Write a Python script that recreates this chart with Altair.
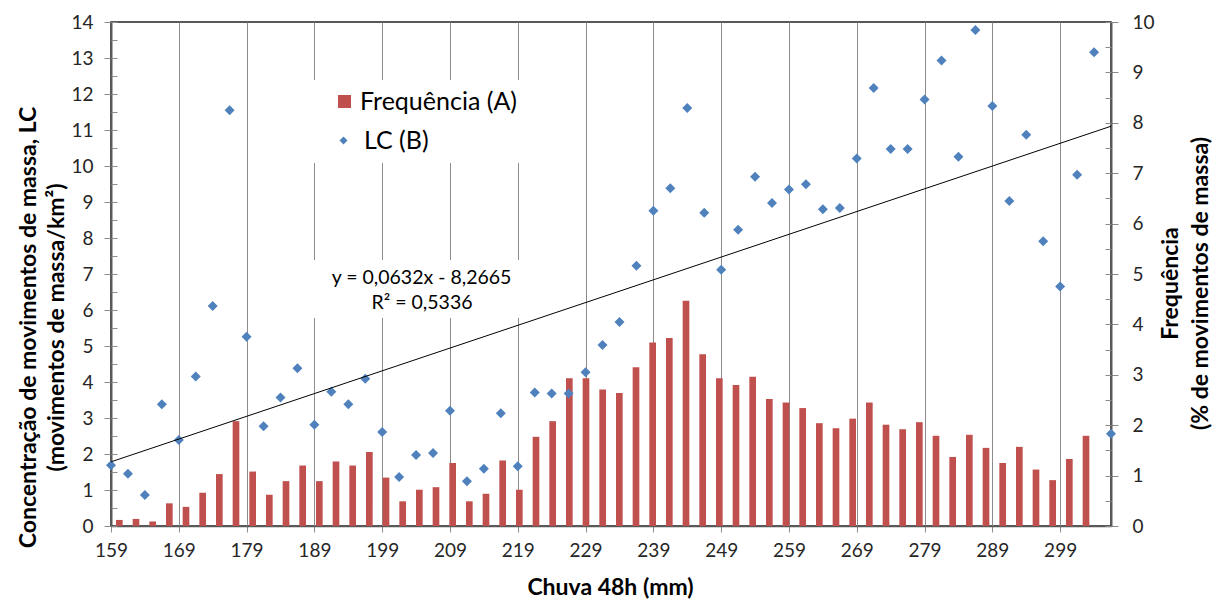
import altair as alt
import pandas as pd

# ---------------- data ----------------
rain = [159, 161.5, 164, 166.5, 169, 171.5, 174, 176.5, 179, 181.5,
        184, 186.5, 189, 191.5, 194, 196.5, 199, 201.5, 204, 206.5,
        209, 211.5, 214, 216.5, 219, 221.5, 224, 226.5, 229, 231.5,
        234, 236.5, 239, 241.5, 244, 246.5, 249, 251.5, 254, 256.5,
        259, 261.5, 264, 266.5, 269, 271.5, 274, 276.5, 279, 281.5,
        284, 286.5, 289, 291.5, 294, 296.5, 299, 301.5, 304, 306.5]

lc = [1.69, 1.45, 0.86, 3.38, 2.39, 4.15, 6.11, 11.55, 5.26, 2.77,
      3.57, 4.38, 2.81, 3.73, 3.38, 4.09, 2.61, 1.36, 1.97, 2.03,
      3.20, 1.24, 1.59, 3.13, 1.66, 3.71, 3.68, 3.68, 4.27, 5.03,
      5.67, 7.23, 8.76, 9.38, 11.61, 8.70, 7.12, 8.23, 9.70, 8.97,
      9.35, 9.49, 8.80, 8.83, 10.21, 12.17, 10.47, 10.47, 11.85, 12.93,
      10.26, 13.78, 11.67, 9.03, 10.87, 7.91, 6.65, 9.76, 13.16, 2.56]

freq = [0.12, 0.14, 0.09, 0.45, 0.38, 0.66, 1.03, 2.08, 1.08, 0.62,
        0.89, 1.20, 0.89, 1.28, 1.20, 1.47, 0.96, 0.49, 0.72, 0.77,
        1.25, 0.49, 0.64, 1.30, 0.72, 1.77, 2.08, 2.93, 2.93, 2.71,
        2.64, 3.15, 3.64, 3.73, 4.47, 3.41, 2.93, 2.80, 2.96, 2.52,
        2.45, 2.34, 2.04, 1.94, 2.13, 2.45, 2.01, 1.92, 2.06, 1.79,
        1.37, 1.81, 1.55, 1.25, 1.57, 1.12, 0.91, 1.33, 1.79, 0.0]

x_ticks = [159, 169, 179, 189, 199, 209, 219, 229, 239, 249, 259, 269, 279, 289, 299]
y_left_ticks = [0, 1, 2, 3, 4, 5, 6, 7, 8, 9, 10, 11, 12, 13, 14]
y_right_ticks = [0, 1, 2, 3, 4, 5, 6, 7, 8, 9, 10]
# inner (minor + major) tick positions
y_left_inner = [0, 0.5, 1, 1.5, 2, 2.5, 3, 3.5, 4, 4.5, 5, 5.5, 6, 6.5, 7, 7.5,
                8, 8.5, 9, 9.5, 10, 10.5, 11, 11.5, 12, 12.5, 13, 13.5, 14]
y_right_inner = [0, 0.5, 1, 1.5, 2, 2.5, 3, 3.5, 4, 4.5, 5, 5.5, 6, 6.5, 7, 7.5,
                 8, 8.5, 9, 9.5, 10]

trend_slope = 0.0632
trend_intercept = -8.2665
eq_lines = ["y = 0,0632x - 8,2665", "R\u00b2 = 0,5336"]
legend_labels = ["Frequência (A)", "LC (B)"]

left_title = ["Concentração de movimentos de massa, LC", "(movimentos de massa/km\u00b2)"]
right_title = ["Frequência", "(% de movimentos de massa)"]
x_title = "Chuva 48h (mm)"

# ---------------- styling ----------------
BAR = "#C0504D"
PT = "#4F81BD"
FONT = "Lato"
TICK = "#8c8c8c"
W, H = 1000, 504

pts_df = pd.DataFrame({"chuva": rain, "lc": lc, "serie_b": legend_labels[1]})
bar_df = pd.DataFrame({"classe": rain, "freq": freq, "serie_a": legend_labels[0]})
trend_df = pd.DataFrame({"chuva": [rain[0], rain[-1]]})
one = pd.DataFrame({"k": [0]})

x_scale = alt.Scale(domain=[159, 306.5], nice=False, zero=False)
yl_scale = alt.Scale(domain=[0, 14], nice=False)
yr_scale = alt.Scale(domain=[0, 10], nice=False)

x_axis = alt.Axis(values=x_ticks, grid=True, gridColor="#8c8c8c", gridWidth=1,
                  tickColor=TICK, tickSize=6, domainColor="#595959", domainWidth=1.5,
                  labelFont=FONT, labelFontSize=19, labelColor="#262626", labelPadding=9,
                  labelFlush=False, labelOverlap=False,
                  title=x_title, titleFont=FONT, titleFontSize=23, titleFontWeight="bold",
                  titleColor="#000000", titleX=499, titleY=61, titleAlign="center",
                  titleBaseline="middle")

yl_axis = alt.Axis(values=y_left_ticks, grid=False, orient="left",
                   tickColor=TICK, tickSize=7, domainColor="#595959", domainWidth=2,
                   labelFont=FONT, labelFontSize=19, labelColor="#262626", labelPadding=11,
                   labelOverlap=False,
                   title=left_title, titleFont=FONT, titleFontSize=23, titleFontWeight="bold",
                   titleColor="#000000", titleAngle=270, titleX=-83, titleY=305,
                   titleAlign="center", titleBaseline="middle", titleLineHeight=28)

yr_axis = alt.Axis(values=y_right_ticks, grid=False, orient="right",
                   tickColor=TICK, tickSize=7, domainColor="#595959", domainWidth=2,
                   labelFont=FONT, labelFontSize=19, labelColor="#262626", labelPadding=14,
                   labelOverlap=False,
                   title=right_title, titleFont=FONT, titleFontSize=23, titleFontWeight="bold",
                   titleColor="#000000", titleAngle=270, titleX=59, titleY=261,
                   titleAlign="center", titleBaseline="middle", titleLineHeight=30)

leg_a = alt.Legend(title=None, orient="none", legendX=221, legendY=67, symbolType="square",
                   symbolSize=169, symbolStrokeWidth=0, labelFont=FONT, labelFontSize=25,
                   labelColor="#000000", labelOffset=3, labelLimit=400, padding=0)
leg_b = alt.Legend(title=None, orient="none", legendX=220, legendY=106, symbolType="diamond",
                   symbolSize=64, symbolFillColor=PT, symbolStrokeWidth=0, labelFont=FONT,
                   labelFontSize=25, labelColor="#000000", labelOffset=8, labelLimit=400,
                   padding=0)

bars = alt.Chart(bar_df).mark_bar().encode(
    x=alt.X("classe:O", axis=None, scale=alt.Scale(paddingInner=0.6, paddingOuter=0.3)),
    y=alt.Y("freq:Q", scale=yr_scale, axis=yr_axis),
    color=alt.Color("serie_a:N", scale=alt.Scale(domain=[legend_labels[0]], range=[BAR]),
                    legend=leg_a),
)

legend_bg = alt.Chart(one).mark_rect(color="white").encode(
    x=alt.value(190), x2=alt.value(430), y=alt.value(58), y2=alt.value(141))
eq_bg = alt.Chart(one).mark_rect(color="white").encode(
    x=alt.value(199), x2=alt.value(421), y=alt.value(238), y2=alt.value(296))

points = alt.Chart(pts_df).mark_point(filled=True, size=100, opacity=1, color=PT).encode(
    x=alt.X("chuva:Q", scale=x_scale, axis=x_axis),
    y=alt.Y("lc:Q", scale=yl_scale, axis=yl_axis),
    shape=alt.Shape("serie_b:N", scale=alt.Scale(domain=[legend_labels[1]], range=["diamond"]),
                    legend=leg_b),
)

trend = alt.Chart(trend_df).transform_calculate(
    lc=f"{trend_slope} * datum.chuva + ({trend_intercept})"
).mark_line(color="black", strokeWidth=1).encode(
    x=alt.X("chuva:Q", scale=x_scale, axis=x_axis),
    y=alt.Y("lc:Q", scale=yl_scale, axis=yl_axis),
)

eq1 = alt.Chart(one).mark_text(font=FONT, fontSize=19.5, color="#000000", align="center",
                               baseline="middle").encode(
    x=alt.value(310.5), y=alt.value(256), text=alt.value(eq_lines[0]))
eq2 = alt.Chart(one).mark_text(font=FONT, fontSize=19.5, color="#000000", align="center",
                               baseline="middle").encode(
    x=alt.value(311), y=alt.value(281), text=alt.value(eq_lines[1]))

left_group = alt.layer(legend_bg, eq_bg, points, trend, eq1, eq2)

# inward-pointing ticks (Excel style minor/cross ticks), drawn as extra axes
inner_left = alt.Chart(one).mark_point(opacity=0).encode(
    y=alt.Y("k:Q", scale=yl_scale,
            axis=alt.Axis(orient="right", offset=-W, values=y_left_inner, labels=False,
                          domain=False, grid=False, tickColor=TICK, tickSize=6, title=None))
)
inner_right = alt.Chart(one).mark_point(opacity=0).encode(
    y=alt.Y("k:Q", scale=yr_scale,
            axis=alt.Axis(orient="left", offset=-W, values=y_right_inner, labels=False,
                          domain=False, grid=False, tickColor=TICK, tickSize=6, title=None))
)

chart = alt.layer(bars, left_group, inner_left, inner_right).resolve_scale(
    x="independent", y="independent"
).properties(
    width=W, height=H,
    padding={"left": 111, "top": 22, "right": 106, "bottom": 76},
    autosize=alt.AutoSizeParams(type="none"),
    background="white",
).configure_view(stroke="#222222", strokeWidth=1.5)

chart.save("out.html", embed_options={"renderer": "svg", "actions": False})
